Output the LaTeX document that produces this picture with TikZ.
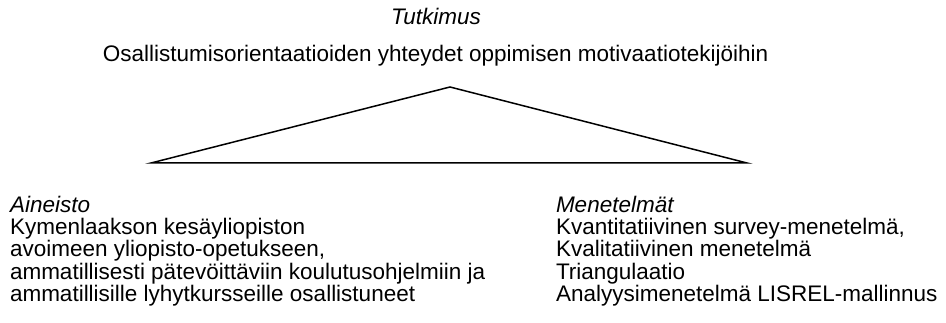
\documentclass[tikz,border=0pt]{standalone}
\usepackage{fontspec}
\setmainfont{Liberation Sans}
\begin{document}
\begin{tikzpicture}[x=1pt,y=-1pt,
  txt/.style={inner sep=0pt,outer sep=0pt,font=\fontsize{22.5pt}{22.5pt}\selectfont},
  col/.style={txt,align=left,anchor=base west},
  tri/.style={draw=black,line width=1.5pt,line join=miter}]
\useasboundingbox (0,0) rectangle (946,323);
\node[txt,anchor=base] (tutkimus) at (436,25) {\itshape Tutkimus};
\node[txt,anchor=base] (aihe) at (435.5,62) {Osallistumisorientaatioiden yhteydet oppimisen motivaatiotekijöihin};
\coordinate (apex) at (450,87);
\coordinate (bl) at (151,163);
\coordinate (br) at (747,163);
\draw[tri] (bl) -- (apex) -- (br) -- cycle;
\node[col] (aineisto) at (10,302) {\itshape Aineisto\\
Kymenlaakson kesäyliopiston\\
avoimeen yliopisto-opetukseen,\\
ammatillisesti pätevöittäviin koulutusohjelmiin ja\\
ammatillisille lyhytkursseille osallistuneet};
\node[col] (menetelmat) at (556,302) {\itshape Menetelmät\\
Kvantitatiivinen survey-menetelmä,\\
Kvalitatiivinen menetelmä\\
Triangulaatio\\
Analyysimenetelmä LISREL-mallinnus};
\end{tikzpicture}
\end{document}
